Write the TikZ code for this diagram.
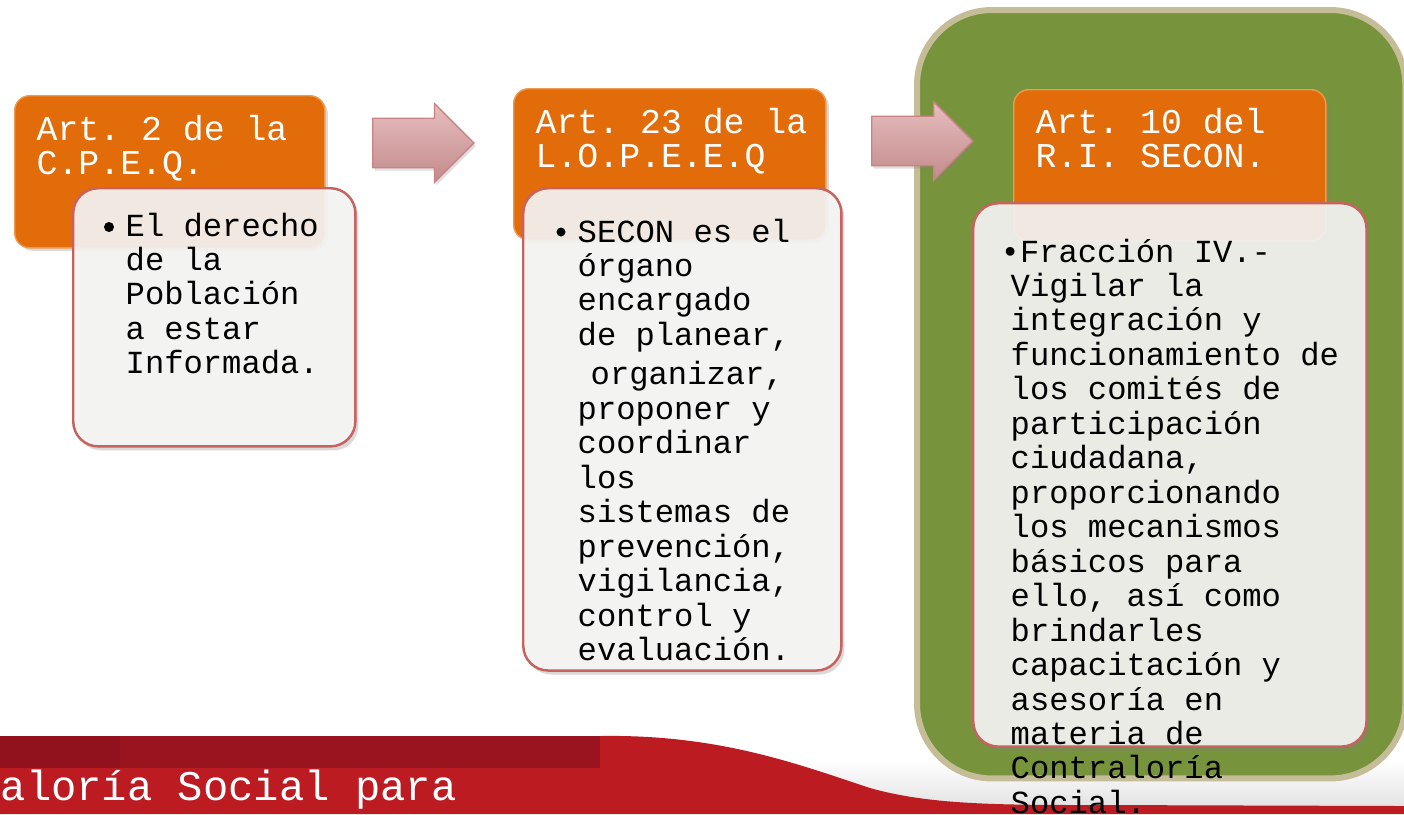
\documentclass[tikz,border=0pt]{standalone}
\usepackage{fontspec}
\setmainfont{Liberation Mono}
\usetikzlibrary{shapes.arrows,shadows}

\definecolor{artorange}{HTML}{E36C0A}
\definecolor{artedge}{HTML}{EE9A4E}
\definecolor{notefill}{HTML}{F6F6F5}
\definecolor{noteedge}{HTML}{C8625F}
\definecolor{arrowpink}{HTML}{D99A9B}
\definecolor{arrowedge}{HTML}{C98385}
\definecolor{panelgreen}{HTML}{77933C}
\definecolor{paneledge}{HTML}{C4BD97}
\definecolor{bannerred}{HTML}{BC1B22}
\definecolor{bannerdark}{HTML}{99141E}

% fixed word space, as wide as a letter
\newcommand{\monospacing}{\spaceskip=0.6em\relax\xspaceskip=0.6em\relax\frenchspacing}

\begin{document}
\begin{tikzpicture}[x=0.01cm, y=-0.01cm,
    artbox/.style={draw=artedge, fill=artorange, rounded corners=0.15cm, anchor=north west, inner sep=0,
        drop shadow={opacity=0.3, shadow xshift=0.03cm, shadow yshift=-0.03cm}},
    notebox/.style={draw=noteedge, line width=0.7pt, fill=notefill, fill opacity=0.9, rounded corners=0.25cm,
        anchor=north west, inner sep=0,
        drop shadow={opacity=0.3, shadow xshift=0.03cm, shadow yshift=-0.04cm}},
    flowarrow/.style={single arrow, draw=arrowedge, top color=arrowpink!65!white, bottom color=arrowpink!90!black,
        single arrow head extend=0.145cm, minimum height=1.01cm, text height=0.24cm, text depth=0.24cm,
        inner sep=0, anchor=tail,
        drop shadow={opacity=0.25, shadow xshift=0.02cm, shadow yshift=-0.03cm}},
    titletext/.style={anchor=base west, inner sep=0, text=white, text width=3cm, align=flush left,
        font=\fontsize{9.9}{9.8}\selectfont\monospacing},
    bodytext/.style={anchor=base west, inner sep=0, text width=4cm, align=flush left,
        font=\fontsize{9.15}{9.8}\selectfont\monospacing},
    bulletdot/.style={circle, fill=black, inner sep=0, minimum size=0.1cm}
    ]
    \useasboundingbox (0,0) rectangle (1404,814);

    % Banner at the bottom
    \shade[top color=white, bottom color=gray!22] (0,760) rectangle (1404,806);
    \fill[bannerred] (0,736) -- (600,736) .. controls (720,734) and (800,765) .. (870,788)
        .. controls (930,805) and (1000,805) .. (1100,805) -- (1404,806) -- (1404,814) -- (0,814) -- cycle;
    \fill[bannerdark] (0,736) rectangle (600,768);
    \fill[bannerdark!90!black, opacity=0.5] (0,736) rectangle (120,768);
    \node[anchor=base west, inner sep=0, text=white, font=\fontsize{12}{14}\selectfont\monospacing] (footer) at (0,800) {aloría Social para};

    % Green panel
    \node[draw=paneledge, line width=0.06cm, fill=panelgreen, rounded corners=0.75cm, anchor=north west,
        minimum width=4.88cm, minimum height=7.68cm] (panel) at (914,7) {};

    % Arrows
    \node[flowarrow] (arrowA) at (372,143) {};
    \node[flowarrow] (arrowB) at (871,141) {};

    % Title boxes
    \node[artbox, minimum width=3.10cm, minimum height=1.52cm] (cpeq) at (14,95) {};
    \node[artbox, minimum width=3.12cm, minimum height=1.51cm] (lopeeq) at (513,88) {};
    \node[artbox, minimum width=3.12cm, minimum height=1.51cm] (secon) at (1013,89) {};

    \node[titletext] (cpeqtxt) at (36,140) {Art. 2 de la\\C.P.E.Q.};
    \node[titletext] (lopeeqtxt) at (535,133) {Art. 23 de la\\L.O.P.E.E.Q};
    \node[titletext] (secontxt) at (1035,133) {Art. 10 del\\R.I. SECON.};

    % Note boxes
    \node[notebox, minimum width=2.82cm, minimum height=2.58cm] (cpeqnote) at (72,187) {};
    \node[notebox, minimum width=3.18cm, minimum height=4.82cm] (lopeeqnote) at (522,187) {};
    \node[notebox, minimum width=3.93cm, minimum height=5.43cm] (seconnote) at (972,202) {};

    \node[bulletdot] (cpeqdot) at (109,227) {};
    \node[bodytext] (cpeqnotetxt) at (125,236) {El derecho\\de la\\Población\\a estar\\Informada.};

    \node[bulletdot, minimum size=0.09cm] (lopeeqdot) at (561,232) {};
    \node[bodytext] (lopeeqnotetxt) at (577,242) {SECON es el\\órgano\\encargado\\de planear,\\[0.05cm]
        \hspace*{0.13cm}organizar,\\proponer y\\coordinar\\los\\sistemas de\\prevención,\\vigilancia,\\control y\\evaluación.};

    \node[bodytext] (seconnotetxt) at (1010,262) {\hspace*{-0.1cm}\textbullet Fracción IV.-\\Vigilar la\\integración y\\funcionamiento de\\los comités de\\participación\\ciudadana,\\proporcionando\\los mecanismos\\básicos para\\ello, así como\\brindarles\\capacitación y\\asesoría en\\materia de\\Contraloría\\Social.};

\end{tikzpicture}
\end{document}
